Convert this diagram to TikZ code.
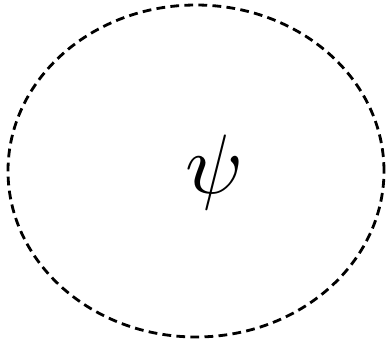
\documentclass[tikz,border=0pt]{standalone}
\usepackage{amsmath,amssymb}

\begin{document}
\begin{tikzpicture}[every node/.style={scale=4.8}]
    \useasboundingbox (0,0) rectangle (7.78,6.86);

    % Граница области
    \draw[line width=1.6pt, dash pattern=on 5pt off 3pt] (3.92,3.44) ellipse (3.76 and 3.32);

    % Волновая функция
    \node (psi) at (4.29,3.41) {$\psi$};
\end{tikzpicture}
\end{document}
